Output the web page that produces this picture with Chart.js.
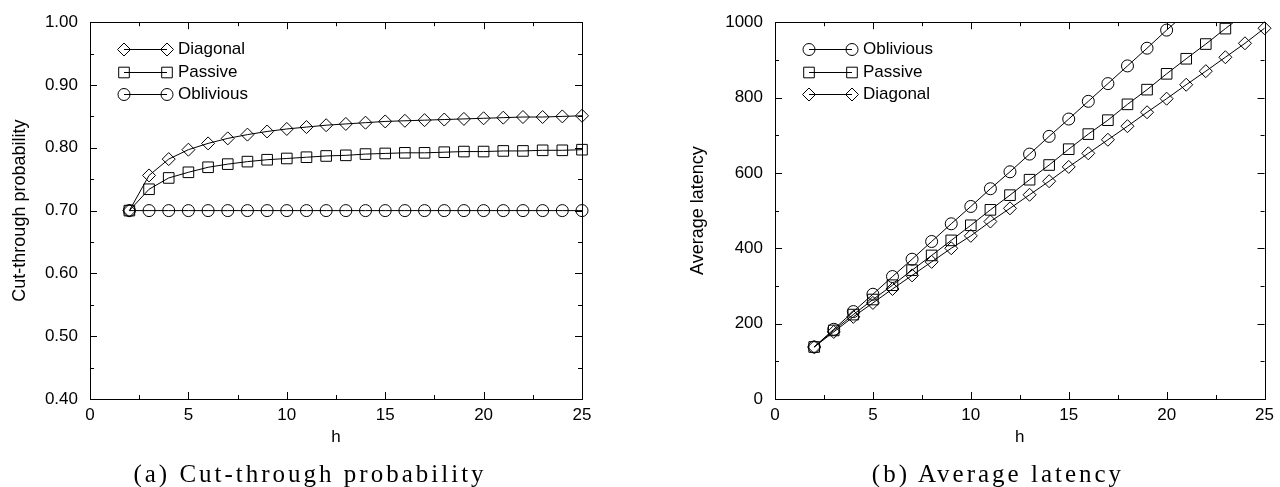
<!DOCTYPE html>
<html>
<head>
<meta charset="utf-8">
<script src="https://cdn.jsdelivr.net/npm/chart.js@4.4.1/dist/chart.umd.min.js"></script>
<style>
  body { margin: 0; background: #fff; width: 1280px; height: 487px; overflow: hidden; position: relative; }
  .panel { position: absolute; top: 0; width: 640px; height: 487px; }
  .caption { position: absolute; top: 460px; width: 640px; text-align: center; color: #000;
    font-family: "Liberation Serif", serif; font-size: 25px; letter-spacing: 3px; line-height: 28px; }
</style>
</head>
<body>
<div class="panel" style="left:0"><canvas id="probChart" width="640" height="487"></canvas></div>
<div class="panel" style="left:640px"><canvas id="latChart" width="640" height="487"></canvas></div>
<div class="caption" style="left:-10px">(a) Cut-through probability</div>
<div class="caption" style="left:678px">(b) Average latency</div>
<script>
const FONT = "'Liberation Sans', Arial, Helvetica, sans-serif";

// ---------- Data ----------
// (a) cut-through probability vs h
const hProb = [2, 3, 4, 5, 6, 7, 8, 9, 10, 11, 12, 13, 14, 15, 16, 17, 18, 19, 20, 21, 22, 23, 24, 25];
const diagonalProb = [0.700, 0.756, 0.782, 0.797, 0.807, 0.815, 0.821, 0.826, 0.830, 0.833, 0.836, 0.838,
  0.840, 0.842, 0.843, 0.844, 0.845, 0.846, 0.847, 0.848, 0.849, 0.849, 0.850, 0.851];
const passiveProb = [0.700, 0.734, 0.752, 0.761, 0.769, 0.774, 0.778, 0.781, 0.783, 0.785, 0.787, 0.788,
  0.790, 0.791, 0.792, 0.792, 0.793, 0.794, 0.794, 0.795, 0.795, 0.796, 0.796, 0.797];
const obliviousProb = [0.70, 0.70, 0.70, 0.70, 0.70, 0.70, 0.70, 0.70, 0.70, 0.70, 0.70, 0.70,
  0.70, 0.70, 0.70, 0.70, 0.70, 0.70, 0.70, 0.70, 0.70, 0.70, 0.70, 0.70];

// (b) average latency vs h (last points of oblivious/passive run past the top and get clipped)
const hOblivious = [2, 3, 4, 5, 6, 7, 8, 9, 10, 11, 12, 13, 14, 15, 16, 17, 18, 19, 20, 21];
const obliviousLat = [138, 185, 232, 278, 325, 371, 418, 465, 511, 558, 603, 650, 697, 743, 790, 837, 884, 931, 979, 1025];
const hPassive = [2, 3, 4, 5, 6, 7, 8, 9, 10, 11, 12, 13, 14, 15, 16, 17, 18, 19, 20, 21, 22, 23, 24];
const passiveLat = [138, 182, 224, 264, 302, 342, 381, 421, 461, 502, 541, 582, 621, 663, 703, 740, 782, 821, 863, 903, 942, 983, 1023];
const hDiagonal = [2, 3, 4, 5, 6, 7, 8, 9, 10, 11, 12, 13, 14, 15, 16, 17, 18, 19, 20, 21, 22, 23, 24, 25];
const diagonalLat = [138, 178, 218, 255, 292, 328, 364, 400, 433, 471, 506, 542, 578, 616, 652, 688, 724, 761, 797, 834, 870, 907, 944, 984];

const probTicks = [0.4, 0.5, 0.6, 0.7, 0.8, 0.9, 1.0];
const latTicks = [0, 200, 400, 600, 800, 1000];
const hTicks = [0, 5, 10, 15, 20, 25];

// ---------- Helpers ----------
function pairs(xs, ys) {
  return ys.map((y, i) => ({ x: xs[i], y }));
}

const markers = {
  Diagonal: { style: 'rectRot', radius: 6.5 },
  Passive: { style: 'rect', radius: 7.5 },
  Oblivious: { style: 'circle', radius: 6 }
};

function makeSet(label, xs, ys, clip) {
  return {
    label,
    data: pairs(xs, ys),
    borderColor: '#000',
    borderWidth: 1,
    backgroundColor: 'rgba(0,0,0,0)',
    pointStyle: markers[label].style,
    pointRadius: markers[label].radius,
    pointBorderColor: '#000',
    pointBackgroundColor: 'rgba(0,0,0,0)',
    pointBorderWidth: 1,
    tension: 0,
    clip
  };
}

// box, inward ticks on all four sides, and the in-plot legend
const framePlugin = {
  id: 'frame',
  beforeDatasetsDraw(chart, args, opts) {
    const { ctx, chartArea: a, scales: { x, y } } = chart;
    ctx.save();
    ctx.strokeStyle = '#000';
    ctx.lineWidth = 1;
    ctx.strokeRect(Math.round(a.left) + 0.5, Math.round(a.top) + 0.5,
      Math.round(a.right - a.left), Math.round(a.bottom - a.top));
    ctx.beginPath();
    let i = 0;
    for (let v = x.min; v <= x.max + 1e-9; v += opts.xStep, i++) {
      const px = Math.round(x.getPixelForValue(v)) + 0.5;
      const len = i % 2 === 0 ? 7 : 4;
      ctx.moveTo(px, a.bottom); ctx.lineTo(px, a.bottom - len);
      ctx.moveTo(px, a.top); ctx.lineTo(px, a.top + len);
    }
    i = 0;
    for (let v = y.min; v <= y.max + 1e-9; v += opts.yStep, i++) {
      const py = Math.round(y.getPixelForValue(v)) + 0.5;
      const len = i % 2 === 0 ? 7 : 4;
      ctx.moveTo(a.left, py); ctx.lineTo(a.left + len, py);
      ctx.moveTo(a.right, py); ctx.lineTo(a.right - len, py);
    }
    ctx.stroke();
    ctx.restore();
  },
  afterDraw(chart) {
    const { ctx, chartArea: a } = chart;
    ctx.save();
    ctx.font = '17px ' + FONT;
    ctx.textBaseline = 'middle';
    chart.data.datasets.forEach((ds, i) => {
      const yy = Math.round(a.top + 27 + i * 22.5) + 0.5;
      const x1 = a.left + 34, x2 = a.left + 77;
      ctx.strokeStyle = '#000';
      ctx.lineWidth = 1;
      ctx.beginPath(); ctx.moveTo(x1, yy); ctx.lineTo(x2, yy); ctx.stroke();
      ctx.fillStyle = 'rgba(0,0,0,0)';
      const p = { pointStyle: ds.pointStyle, radius: ds.pointRadius, rotation: 0, borderWidth: 1 };
      Chart.helpers.drawPoint(ctx, p, x1, yy);
      Chart.helpers.drawPoint(ctx, p, x2, yy);
      ctx.fillStyle = '#000';
      ctx.fillText(ds.label, a.left + 88, yy);
    });
    ctx.restore();
  }
};

function makeChart(id, datasets, yMin, yMax, yTicks, yFmt, yTitle, cfg) {
  return new Chart(document.getElementById(id), {
    type: 'line',
    data: { datasets },
    plugins: [framePlugin],
    options: {
      responsive: false,
      animation: false,
      layout: { padding: { left: cfg.padLeft, right: cfg.padRight, top: 18, bottom: 39 } },
      plugins: {
        legend: { display: false },
        tooltip: { enabled: false },
        frame: { xStep: 2.5, yStep: cfg.yMinor }
      },
      scales: {
        x: {
          type: 'linear', min: 0, max: 25,
          afterBuildTicks: s => { s.ticks = hTicks.map(v => ({ value: v })); },
          ticks: { padding: 6, color: '#000', font: { family: FONT, size: 17 } },
          grid: { display: false, drawTicks: false },
          border: { display: false },
          title: { display: true, text: 'h', color: '#000', font: { family: FONT, size: 17 }, padding: { top: 0, bottom: 0 } },
          afterFit: s => { s.height = 49; }
        },
        y: {
          type: 'linear', min: yMin, max: yMax,
          afterBuildTicks: s => { s.ticks = yTicks.map(v => ({ value: v })); },
          ticks: { padding: 12, color: '#000', font: { family: FONT, size: 17 }, callback: yFmt },
          grid: { display: false, drawTicks: false },
          border: { display: false },
          title: { display: true, text: yTitle, color: '#000', font: { family: FONT, size: 18 }, padding: { top: cfg.titlePad, bottom: 0 } },
          afterFit: s => { s.width = cfg.yWidth; }
        }
      }
    }
  });
}

const noClip = false;
const topClip = { left: 20, right: 20, top: 0, bottom: 20 };

makeChart('probChart', [
  makeSet('Diagonal', hProb, diagonalProb, noClip),
  makeSet('Passive', hProb, passiveProb, noClip),
  makeSet('Oblivious', hProb, obliviousProb, noClip)
], 0.4, 1.0, probTicks, v => v.toFixed(2), 'Cut-through probability',
  { padLeft: 0, padRight: 58, yWidth: 90, titlePad: 9, yMinor: 0.05 });

makeChart('latChart', [
  makeSet('Oblivious', hOblivious, obliviousLat, topClip),
  makeSet('Passive', hPassive, passiveLat, topClip),
  makeSet('Diagonal', hDiagonal, diagonalLat, noClip)
], 0, 1000, latTicks, v => v, 'Average latency',
  { padLeft: 40, padRight: 13, yWidth: 95, titlePad: 7, yMinor: 100 });
</script>
</body>
</html>
